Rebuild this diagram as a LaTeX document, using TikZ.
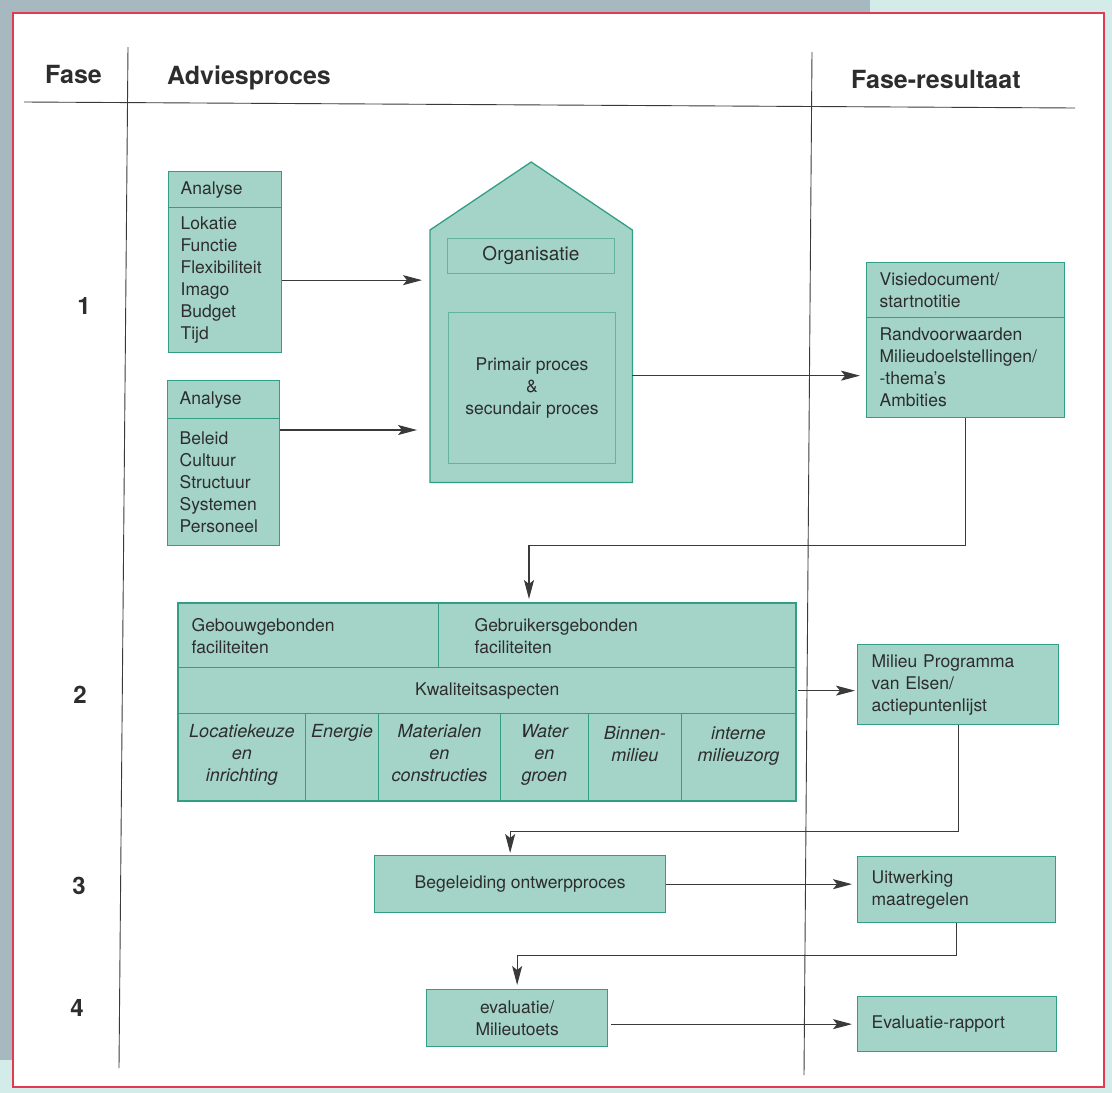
\documentclass[tikz,border=0pt]{standalone}
\usepackage{fontspec}
\setmainfont{TeX Gyre Heros}
\usetikzlibrary{arrows.meta}
\definecolor{vakvul}{RGB}{164,212,199}
\definecolor{vakrand}{RGB}{50,158,134}
\definecolor{binnenrand}{RGB}{98,180,160}
\definecolor{lijnkleur}{RGB}{58,58,58}
\definecolor{tekstkleur}{RGB}{45,45,45}
\definecolor{kader}{RGB}{226,58,82}
\definecolor{grijsblauw}{RGB}{166,184,192}
\definecolor{lichtcyaan}{RGB}{212,236,233}

\begin{document}
\begin{tikzpicture}[x=1pt, y=-1pt,
    kop/.style={font=\fontsize{25}{30}\selectfont\bfseries, text=tekstkleur, anchor=base west, inner sep=0pt},
    fasenr/.style={font=\fontsize{24}{28}\selectfont\bfseries, text=tekstkleur, inner sep=0pt},
    lijn/.style={draw=lijnkleur, line width=0.9pt},
    vak/.style={draw=vakrand, fill=vakvul, line width=1.3pt, inner ysep=0pt, text=tekstkleur,
        font=\fontsize{17.5}{22}\selectfont, anchor=north west},
    binnenvak/.style={draw=binnenrand, line width=0.9pt, inner sep=0pt, text=tekstkleur, anchor=north west, align=center},
    cel/.style={draw=vakrand, fill=vakvul, line width=0.9pt, inner sep=0pt, anchor=north west, minimum height=87pt},
    celtekst/.style={anchor=north, align=center, inner sep=0pt, text=tekstkleur, font=\fontsize{18}{22}\selectfont\itshape},
    pijl/.style={draw=lijnkleur, line width=1.1pt, -{Stealth[length=19pt,width=10pt,inset=4pt]}}
]
    \useasboundingbox (0,0) rectangle (1112,1093);

    %% achtergrond van de scan en het rode kader
    \fill[lichtcyaan] (0,0) rectangle (1112,1093);
    \fill[grijsblauw] (0,0) rectangle (870,13);
    \fill[grijsblauw] (0,0) rectangle (13,1060);
    \filldraw[draw=kader, fill=white, line width=2.5pt] (13,13) rectangle (1104,1087);

    %% kolomkoppen
    \node[kop] (fase) at (45,83) {Fase};
    \node[kop] (advies) at (167,84) {Adviesproces};
    \node[kop] (resultaat) at (851,88) {Fase-resultaat};

    %% kolomlijnen
    \draw[lijn] (24,102) -- (1075,108);
    \draw[lijn] (128,47) -- (119,1068);
    \draw[lijn] (812,52) -- (804,1075);

    %% fasenummers
    \node[fasenr] (nr1) at (84,306) {1};
    \node[fasenr] (nr2) at (80,695) {2};
    \node[fasenr] (nr3) at (79,886) {3};
    \node[fasenr] (nr4) at (77,1008) {4};

    %% fase 1: analyses
    \node[vak, text width=89pt, inner xsep=12pt, minimum height=36pt, align=left] (analyseA-kop) at (168,171) {Analyse};
    \node[vak, text width=89pt, inner xsep=12pt, minimum height=145pt, align=left] (analyseA) at (168,207)
        {Lokatie\\Functie\\Flexibiliteit\\Imago\\Budget\\Tijd};
    \node[vak, text width=88pt, inner xsep=12pt, minimum height=38pt, align=left] (analyseB-kop) at (167,380) {Analyse};
    \node[vak, text width=88pt, inner xsep=12pt, minimum height=127pt, align=left] (analyseB) at (167,418)
        {Beleid\\Cultuur\\Structuur\\Systemen\\Personeel};

    %% het huis
    \node[anchor=north west, minimum width=202pt, minimum height=252pt, inner sep=0pt] (huis) at (430,230) {};
    \filldraw[draw=vakrand, fill=vakvul, line width=1.3pt]
        (huis.south west) -- (huis.north west) -- ([yshift=68pt]huis.north) -- (huis.north east) -- (huis.south east) -- cycle;
    \node[binnenvak, minimum width=167pt, minimum height=35pt, font=\fontsize{19}{22}\selectfont] (organisatie) at (447,238) {Organisatie};
    \node[binnenvak, minimum width=167pt, minimum height=151pt, font=\fontsize{17.5}{22}\selectfont] (primair) at (448,312)
        {Primair proces\\\&\\secundair proces};

    %% fase 1: resultaat
    \node[vak, text width=172pt, inner xsep=13pt, minimum height=55pt, align=left] (visie-kop) at (866,262)
        {Visiedocument/\\startnotitie};
    \node[vak, text width=172pt, inner xsep=13pt, minimum height=100pt, align=left] (visie) at (866,317)
        {Randvoorwaarden\\Milieudoelstellingen/\\-thema's\\Ambities};

    %% fase 2: tabel
    \node[vak, text width=234pt, inner xsep=13pt, minimum height=64pt, align=left] (gebouw) at (178,603)
        {Gebouwgebonden\\faciliteiten};
    \node[vak, text width=285pt, inner xsep=36pt, minimum height=64pt, align=left] (gebruiker) at (438,603)
        {Gebruikersgebonden\\faciliteiten};
    \node[vak, minimum width=617pt, minimum height=46pt] (kwaliteit) at (178,667) {Kwaliteitsaspecten};
    \node[cel, minimum width=127pt] (locatie) at (178,713) {};
    \node[cel, minimum width=73pt] (energie) at (305,713) {};
    \node[cel, minimum width=122pt] (materialen) at (378,713) {};
    \node[cel, minimum width=88pt] (water) at (500,713) {};
    \node[cel, minimum width=93pt] (binnen) at (588,713) {};
    \node[cel, minimum width=114pt] (interne) at (681,713) {};
    \draw[draw=vakrand, line width=1.3pt] (gebouw.north west) rectangle (interne.south east);
    \node[celtekst] (locatie-t) at ([yshift=-11pt]locatie.north) {Locatiekeuze\\en\\inrichting};
    \node[celtekst] (energie-t) at ([yshift=-11pt]energie.north) {Energie};
    \node[celtekst] (materialen-t) at ([yshift=-11pt]materialen.north) {Materialen\\en\\constructies};
    \node[celtekst] (water-t) at ([yshift=-11pt]water.north) {Water\\en\\groen};
    \node[celtekst] (binnen-t) at ([yshift=-13pt]binnen.north) {Binnen-\\milieu};
    \node[celtekst] (interne-t) at ([yshift=-14pt]interne.north) {interne\\milieuzorg};

    %% fase 2: resultaat
    \node[vak, text width=173pt, inner xsep=14pt, minimum height=80pt, align=left] (milieu) at (857,644)
        {Milieu Programma\\van Elsen/\\actiepuntenlijst};

    %% fase 3
    \node[vak, minimum width=291pt, minimum height=57pt] (begeleiding) at (374,855) {Begeleiding ontwerpproces};
    \node[vak, text width=170pt, inner xsep=14pt, minimum height=66pt, align=left] (uitwerking) at (857,856)
        {Uitwerking\\maatregelen};

    %% fase 4
    \node[vak, minimum width=181pt, minimum height=57pt, align=center] (evaluatie) at (426,989) {evaluatie/\\Milieutoets};
    \node[vak, text width=171pt, inner xsep=14pt, minimum height=55pt, align=left] (rapport) at (857,996) {Evaluatie-rapport};

    %% pijlen
    \draw[pijl, shorten >=8pt] (analyseA.east) -- (analyseA.east -| huis.west);
    \path ([yshift=-12pt]analyseB.north east) coordinate (uitB);
    \draw[pijl, shorten >=13pt] (uitB) -- (uitB -| huis.west);
    \path ([yshift=-8pt]visie.west) coordinate (inVisie);
    \draw[pijl, shorten >=6pt] (inVisie -| huis.east) -- (inVisie);
    \draw[pijl, shorten >=4pt] (visie.south) -- ++(0,127) -| ([xshift=91pt]gebruiker.north west);
    \draw[pijl, shorten <=2pt, shorten >=2pt] (kwaliteit.east) -- (kwaliteit.east -| milieu.west);
    \draw[pijl, shorten >=2pt] (milieu.south) -- ++(0,106) -| ([xshift=-10pt]begeleiding.north);
    \draw[pijl, shorten >=5pt] (begeleiding.east) -- (begeleiding.east -| uitwerking.west);
    \draw[pijl, shorten >=4pt] (uitwerking.south) -- ++(0,32) -| (evaluatie.north);
    \draw[pijl, shorten <=3pt, shorten >=5pt] (evaluatie.east |- rapport.west) -- (rapport.west);
\end{tikzpicture}
\end{document}
